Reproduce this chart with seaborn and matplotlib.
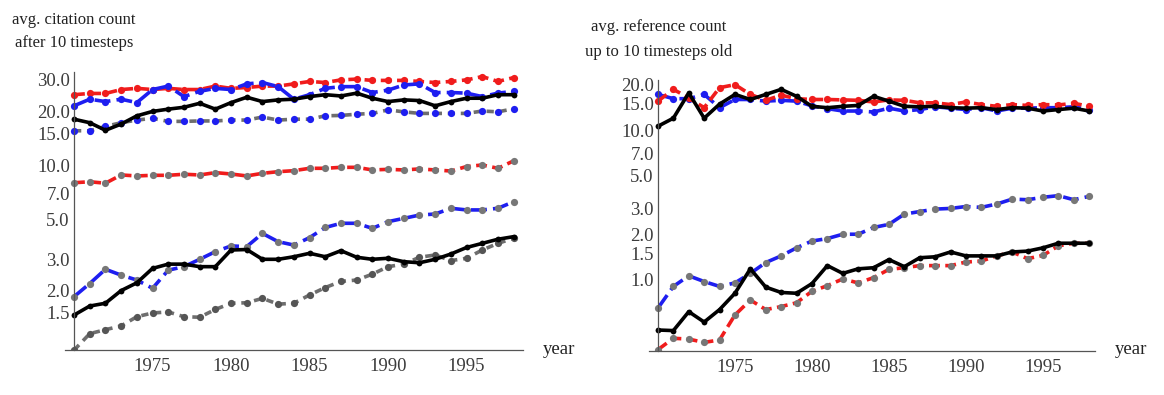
import numpy as np
import seaborn as sns
import matplotlib.pyplot as plt
import matplotlib.ticker as mticker

years = list(range(1970, 1999))

# left panel: avg. citation count after 10 timesteps
cit_red_hi = [24.8, 25.2, 25.2, 26.5, 26.9, 26.5, 26.9, 26.5, 26.5, 27.7, 26.9, 27.2, 27.7, 27.7, 28.5,
              29.4, 29.0, 30.0, 30.3, 29.8, 29.8, 29.8, 29.4, 29.0, 29.4, 30.0, 31.3, 29.4, 30.9]
cit_blue_hi = [21.5, 23.4, 22.7, 23.4, 22.4, 26.5, 27.7, 24.2, 25.9, 26.9, 26.5, 28.5, 29.0, 27.5, 23.4,
               24.8, 26.9, 27.5, 27.5, 25.5, 26.3, 28.1, 28.5, 25.5, 25.5, 25.3, 24.2, 25.3, 25.9]
cit_black_hi = [18.1, 17.3, 15.7, 17.0, 18.9, 20.0, 20.6, 21.1, 22.2, 20.6, 22.4, 24.0, 22.7, 23.2, 23.4,
                24.2, 24.8, 24.4, 25.3, 23.7, 22.7, 23.2, 23.0, 21.5, 22.7, 23.7, 23.7, 24.8, 24.8]
cit_gray_hi = [15.6, 15.6, 16.5, 17.3, 17.9, 18.3, 17.6, 17.6, 17.7, 17.7, 17.9, 17.9, 18.6, 17.9, 18.1,
               18.1, 18.9, 19.0, 19.3, 19.5, 20.4, 19.9, 19.5, 19.5, 19.5, 19.5, 20.1, 19.9, 20.7]
cit_red_lo = [8.0, 8.1, 7.95, 8.84, 8.73, 8.8, 8.8, 8.92, 8.84, 9.11, 8.95, 8.73, 9.03, 9.22, 9.34,
              9.63, 9.63, 9.75, 9.75, 9.43, 9.5, 9.43, 9.55, 9.43, 9.3, 9.85, 10.05, 9.63, 10.6]
cit_blue_lo = [1.85, 2.19, 2.63, 2.44, 2.29, 2.06, 2.60, 2.72, 2.99, 3.30, 3.55, 3.52, 4.17, 3.75, 3.59,
               3.95, 4.5, 4.75, 4.75, 4.45, 4.85, 5.06, 5.28, 5.35, 5.76, 5.64, 5.64, 5.76, 6.27]
cit_black_lo = [1.46, 1.64, 1.70, 2.0, 2.21, 2.66, 2.81, 2.81, 2.72, 2.72, 3.37, 3.39, 2.99, 2.99, 3.09,
                3.23, 3.09, 3.34, 3.07, 2.99, 3.03, 2.90, 2.86, 2.99, 3.2, 3.48, 3.67, 3.87, 4.0]
cit_gray_lo = [0.93, 1.15, 1.21, 1.27, 1.43, 1.50, 1.52, 1.43, 1.42, 1.57, 1.70, 1.71, 1.81, 1.68, 1.70,
               1.89, 2.08, 2.25, 2.29, 2.47, 2.72, 2.81, 3.07, 3.16, 2.94, 3.03, 3.37, 3.67, 3.92]

# right panel: avg. reference count up to 10 timesteps old
ref_black_hi = [10.6, 12.0, 17.7, 12.0, 14.9, 17.3, 16.0, 17.3, 18.7, 16.8, 14.4, 14.1, 14.4, 14.6, 16.8,
                15.6, 14.4, 14.3, 14.4, 14.1, 14.0, 14.1, 13.7, 14.1, 14.0, 13.4, 13.7, 14.0, 13.4]
ref_red_hi = [15.6, 18.7, 16.4, 14.1, 19.2, 20.1, 17.3, 15.8, 17.1, 16.2, 16.0, 16.0, 15.9, 15.8, 15.4,
              15.9, 15.8, 15.2, 15.2, 14.8, 15.4, 14.8, 14.4, 14.8, 14.6, 14.8, 14.7, 15.1, 14.4]
ref_blue_hi = [17.3, 16.2, 16.2, 17.3, 14.1, 16.0, 16.0, 15.6, 15.8, 15.6, 14.5, 13.9, 13.4, 13.4, 13.2,
               14.0, 13.4, 13.7, 14.3, 14.0, 13.7, 14.1, 13.4, 14.0, 14.0, 14.1, 14.1, 14.3, 13.7]
ref_blue_lo = [0.645, 0.90, 1.06, 0.97, 0.90, 0.95, 1.10, 1.30, 1.44, 1.63, 1.81, 1.88, 2.01, 2.01, 2.23,
               2.34, 2.74, 2.85, 2.96, 2.99, 3.08, 3.04, 3.20, 3.45, 3.42, 3.55, 3.64, 3.42, 3.60]
ref_black_lo = [0.46, 0.456, 0.61, 0.52, 0.63, 0.81, 1.18, 0.89, 0.82, 0.81, 0.94, 1.24, 1.10, 1.18, 1.20,
                1.36, 1.22, 1.40, 1.42, 1.53, 1.44, 1.44, 1.44, 1.53, 1.55, 1.63, 1.75, 1.75, 1.75]
ref_red_lo = [0.34, 0.405, 0.40, 0.38, 0.395, 0.58, 0.73, 0.63, 0.66, 0.70, 0.835, 0.91, 1.01, 0.95, 1.03,
              1.17, 1.20, 1.24, 1.24, 1.24, 1.31, 1.33, 1.44, 1.53, 1.38, 1.45, 1.68, 1.75, 1.75]

left_yticks = [1.5, 2.0, 3.0, 5.0, 7.0, 10.0, 15.0, 20.0, 30.0]
right_yticks = [1.0, 1.5, 2.0, 3.0, 5.0, 7.0, 10.0, 15.0, 20.0]
year_ticks = [1975, 1980, 1985, 1990, 1995]

RED = "#f01c1c"
BLUE = "#1e1ef0"
GRAY = "#6e6e6e"
BLACK = "#000000"
AXIS = "#555555"

RED_DASH = (0, (3.0, 1.5))
BLUE_DASH = (0, (4.4, 1.7))
GRAY_DASH = (0, (2.0, 1.6))

sns.set_style("white")
plt.rcParams["font.family"] = ["Liberation Serif", "DejaVu Serif"]


def _draw(ax, values, color, ls, marker_color, ms=5.2):
    sns.lineplot(x=years, y=values, ax=ax, color=color, linewidth=2.6, linestyle=ls,
                 marker="o", markersize=ms, markerfacecolor=marker_color,
                 markeredgecolor=marker_color, markeredgewidth=0,
                 estimator=None, sort=False, errorbar=None)


def _style_axes(ax, xlim, ylim, major):
    ax.set_yscale("log")
    ax.set_xlim(*xlim)
    ax.set_ylim(*ylim)
    ax.spines["left"].set_position(("data", 1970))
    for s in ["top", "right"]:
        ax.spines[s].set_visible(False)
    for s in ["left", "bottom"]:
        ax.spines[s].set_color(AXIS)
        ax.spines[s].set_linewidth(0.9)

    ax.set_yticks(major)
    ax.yaxis.set_major_formatter(mticker.FormatStrFormatter("%.1f"))
    minor = np.concatenate([np.arange(0.4, 1.0, 0.1), np.arange(1.0, 2.0, 0.1),
                            np.arange(2.0, 5.0, 0.25), np.arange(5.0, 10.0, 0.5),
                            np.arange(10.0, 20.0, 1.0), np.arange(20.0, 35.0, 2.5)])
    minor = [m for m in minor if ylim[0] < m < ylim[1]]
    ax.yaxis.set_minor_locator(mticker.FixedLocator(minor))
    ax.yaxis.set_minor_formatter(mticker.NullFormatter())

    ax.set_xticks(year_ticks)
    ax.set_xticks(years, minor=True)
    ax.xaxis.set_major_formatter(mticker.FormatStrFormatter("%d"))

    ax.tick_params(axis="both", which="major", direction="in", length=5, width=0.9,
                   color=AXIS, labelsize=13.5, labelcolor="#3c3c3c")
    ax.tick_params(axis="both", which="minor", direction="in", length=2.5, width=0.7,
                   color=AXIS)
    ax.tick_params(axis="x", which="major", pad=6)
    ax.tick_params(axis="y", which="major", pad=3)
    ax.set_xlabel("")
    ax.set_ylabel("")
    ax.grid(False)


W, H = 1164, 395
fig = plt.figure(figsize=(W / 100, H / 100), dpi=100)

ax1 = fig.add_axes([65.4 / W, 45 / H, 457.7 / W, 278 / H])
ax2 = fig.add_axes([649.5 / W, 44 / H, 445.8 / W, 271 / H])

# left panel
_draw(ax1, cit_gray_hi, GRAY, GRAY_DASH, BLUE)
_draw(ax1, cit_gray_lo, GRAY, GRAY_DASH, "#555555")
_draw(ax1, cit_red_hi, RED, RED_DASH, RED)
_draw(ax1, cit_red_lo, RED, RED_DASH, "#777777")
_draw(ax1, cit_blue_hi, BLUE, BLUE_DASH, BLUE)
_draw(ax1, cit_blue_lo, BLUE, BLUE_DASH, "#777777")
_draw(ax1, cit_black_hi, BLACK, "-", BLACK, ms=4.2)
_draw(ax1, cit_black_lo, BLACK, "-", BLACK, ms=4.2)
_style_axes(ax1, (1969.45, 1998.6), (0.932, 33.2), left_yticks)

# right panel
_draw(ax2, ref_blue_hi, BLUE, BLUE_DASH, BLUE)
_draw(ax2, ref_blue_lo, BLUE, BLUE_DASH, "#777777")
_draw(ax2, ref_red_hi, RED, RED_DASH, RED)
_draw(ax2, ref_red_lo, RED, RED_DASH, "#777777")
_draw(ax2, ref_black_hi, BLACK, "-", BLACK, ms=4.2)
_draw(ax2, ref_black_lo, BLACK, "-", BLACK, ms=4.2)
_style_axes(ax2, (1969.45, 1998.4), (0.333, 21.6), right_yticks)

# axis labels in Mathematica style
lab_kw = dict(ha="center", va="center", fontsize=12, color="#222222")
fig.text(74 / W, 1 - 20 / H, "avg. citation count", **lab_kw)
fig.text(74 / W, 1 - 43 / H, "after 10 timesteps", **lab_kw)
fig.text(659 / W, 1 - 27 / H, "avg. reference count", **lab_kw)
fig.text(659 / W, 1 - 52 / H, "up to 10 timesteps old", **lab_kw)

year_kw = dict(ha="left", va="center", fontsize=13.5, color="#222222")
fig.text(543 / W, 1 - 350 / H, "year", **year_kw)
fig.text(1115 / W, 1 - 350 / H, "year", **year_kw)

fig.savefig("out.png", dpi=100)
